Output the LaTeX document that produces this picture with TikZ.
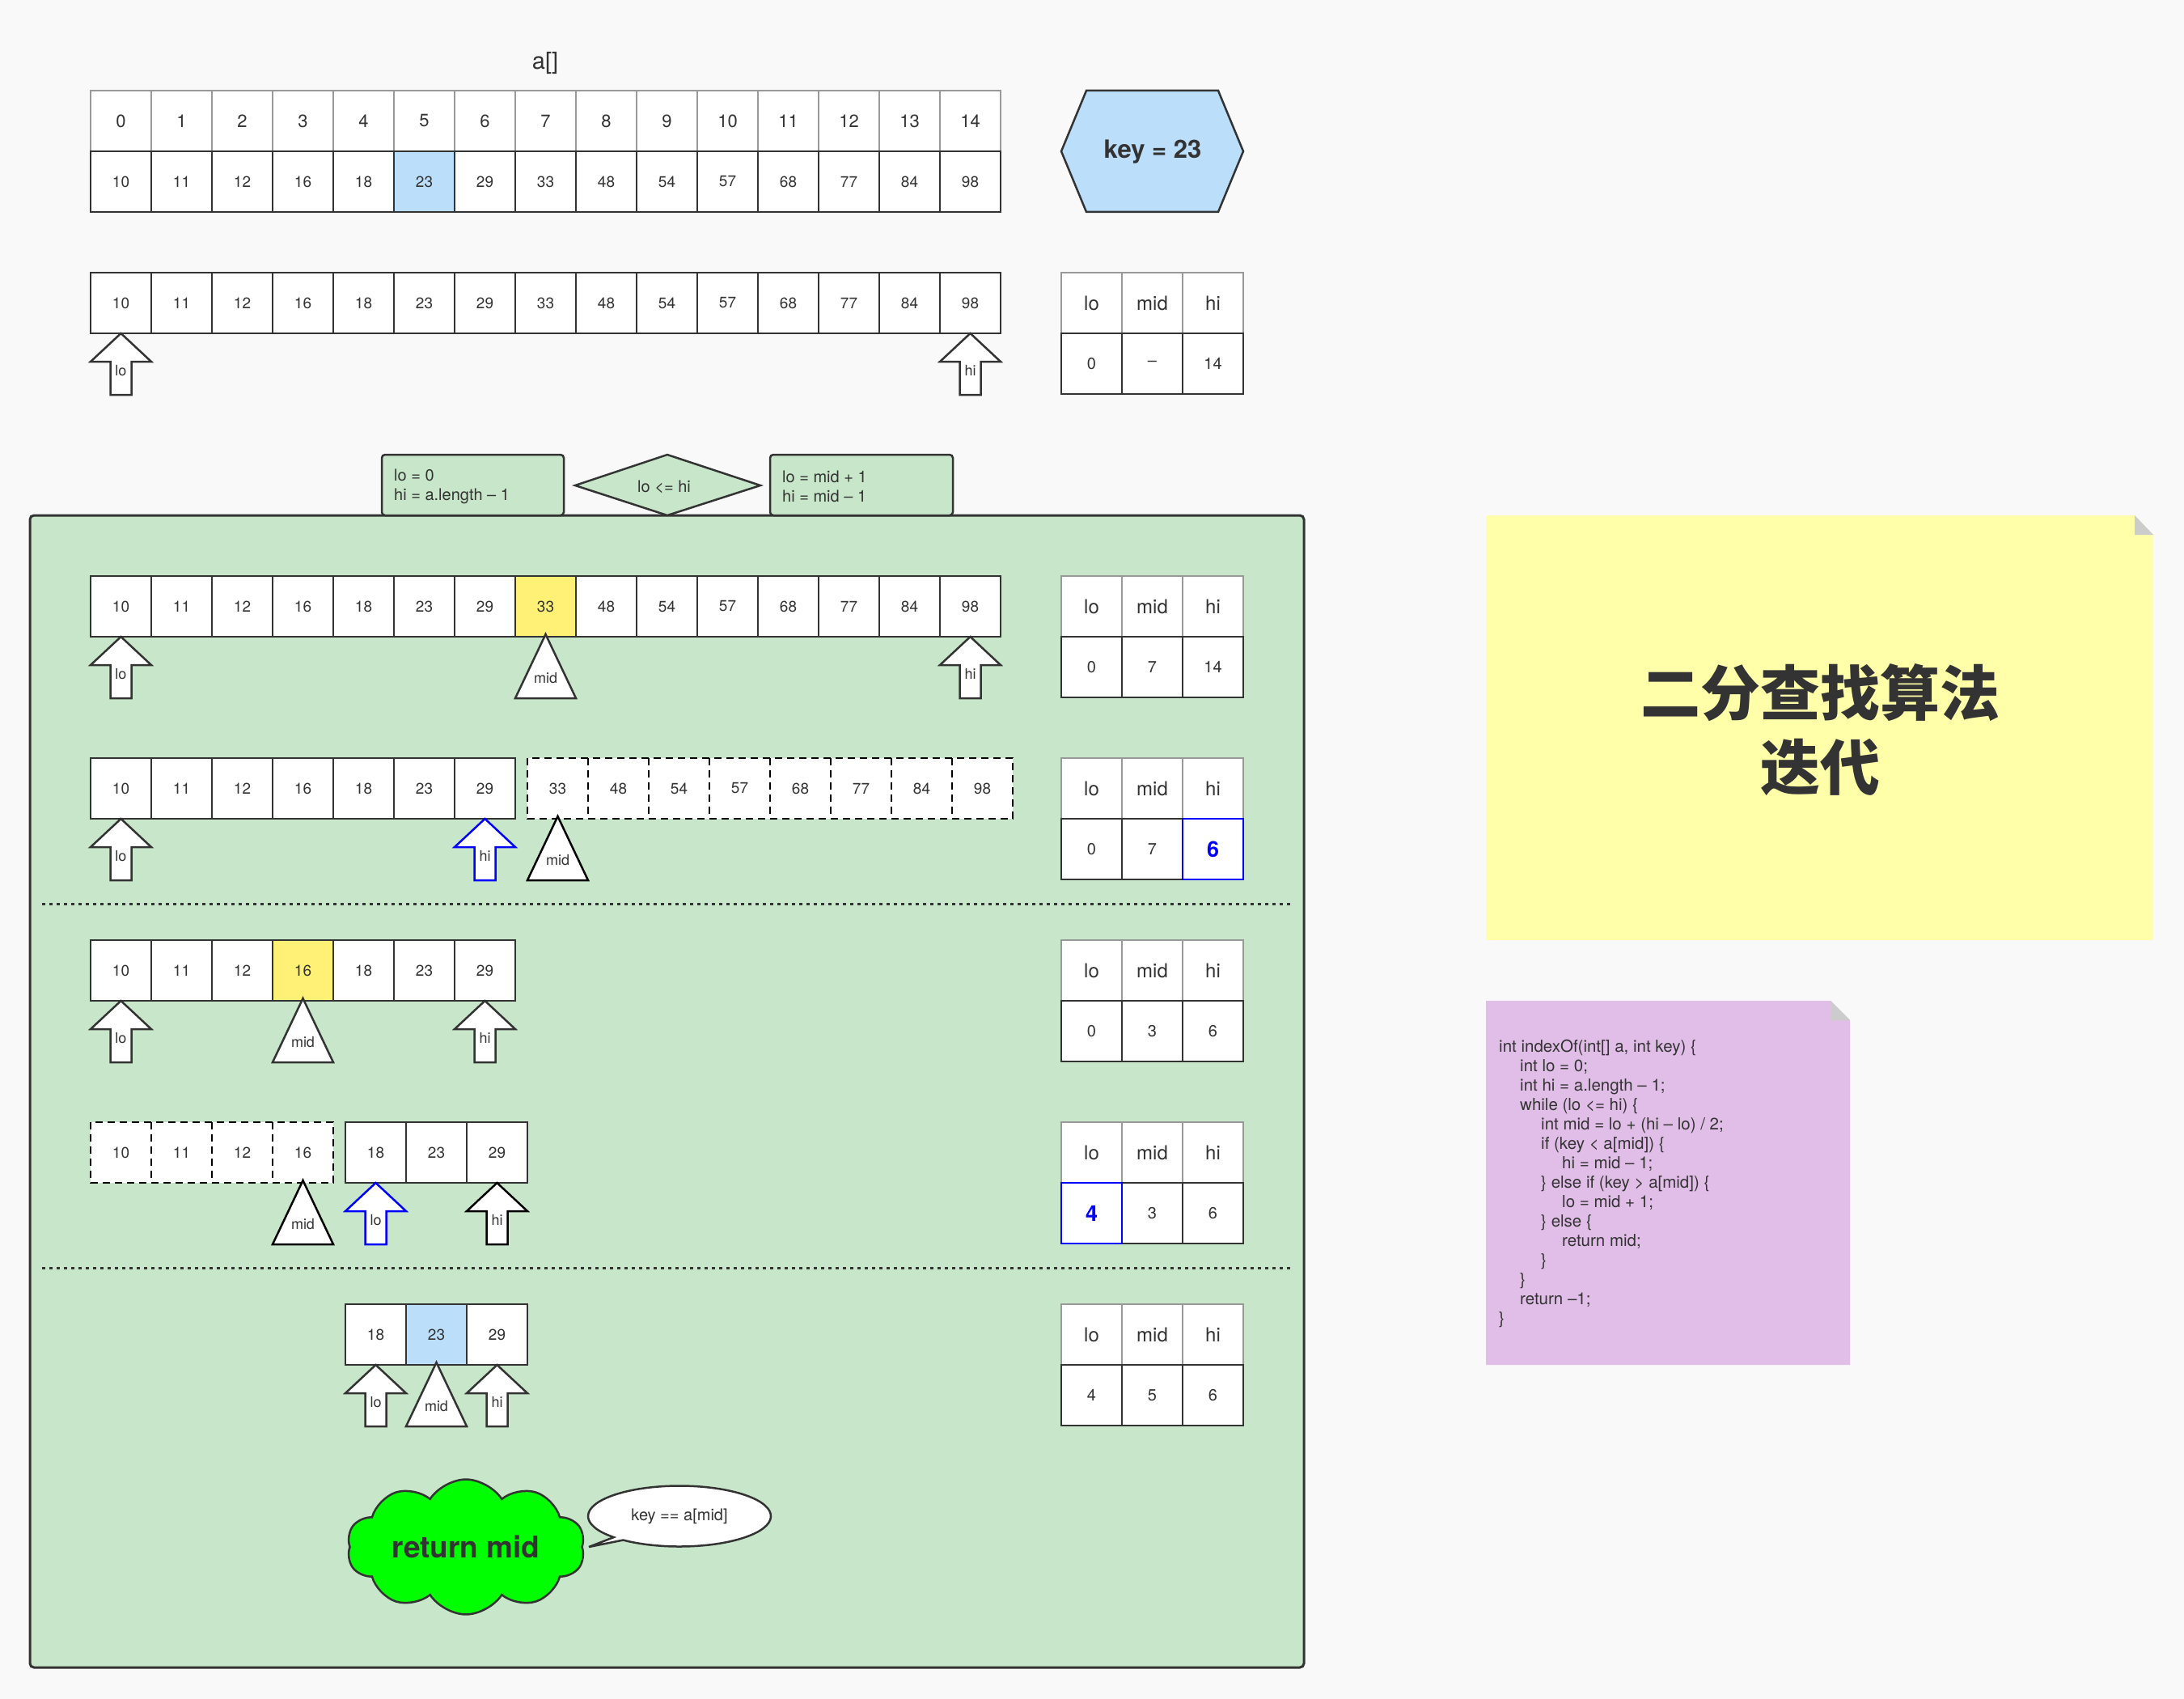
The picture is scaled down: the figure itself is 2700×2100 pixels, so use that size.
\documentclass[tikz,border=0pt]{standalone}
\usepackage{fontspec}
\setmainfont{TeX Gyre Heros}
\newfontfamily\cjk{Noto Sans CJK SC}
\usetikzlibrary{shapes.symbols}
\definecolor{dk}{HTML}{333333}
\definecolor{bgc}{HTML}{F9F9F9}
\definecolor{gridg}{HTML}{999999}
\definecolor{cgreen}{HTML}{C8E6C9}
\definecolor{lblue}{HTML}{BBDEFB}
\definecolor{cyel}{HTML}{FFF176}
\definecolor{pblue}{HTML}{0000FF}
\definecolor{noteyel}{HTML}{FFFFAA}
\definecolor{notepur}{HTML}{E1BEE7}
\definecolor{foldg}{HTML}{CCCCCC}
\definecolor{lime}{HTML}{00FF00}

\newcommand{\ArrUp}[5]{%
  \draw[shp, draw=#2] (#3,#4) -- ++(37.5,35) -- ++(-24.5,0) -- ++(0,41) -- ++(-26,0) -- ++(0,-41) -- ++(-24.5,0) -- cycle;
  \node[albl] (#1) at (#3,#4+46) {#5};}
\newcommand{\TriUp}[5]{%
  \draw[shp, draw=#2] (#3,#4-3) -- (#3+37.5,#4+76) -- (#3-37.5,#4+76) -- cycle;
  \node[albl] (#1) at (#3,#4+51) {#5};}
\newcommand{\LMH}[5]{%
  \node[hcell] (#1h0) at (1349.5,#2+37.5) {lo};
  \node[hcell] (#1h1) at (1424.5,#2+37.5) {mid};
  \node[hcell] (#1h2) at (1499.5,#2+37.5) {hi};
  \node[tcell] (#1v0) at (1349.5,#2+112.5) {#3};
  \node[tcell] (#1v1) at (1424.5,#2+112.5) {#4};
  \node[tcell] (#1v2) at (1499.5,#2+112.5) {#5};}

\begin{document}
\begin{tikzpicture}[x=1pt, y=-1pt,
  every node/.style={text=dk},
  cellbase/.style={minimum width=75pt, minimum height=75pt, inner sep=0pt, fill=white},
  vcell/.style={cellbase, draw=dk, line width=2.5pt, font=\fontsize{19}{19}\selectfont},
  icell/.style={cellbase, draw=gridg, line width=1.5pt, font=\fontsize{22}{22}\selectfont},
  hcell/.style={cellbase, draw=gridg, line width=1.5pt, font=\fontsize{24}{24}\selectfont},
  tcell/.style={cellbase, draw=dk, line width=2.5pt, font=\fontsize{20}{20}\selectfont},
  bcell/.style={cellbase, draw=pblue, line width=2.5pt, text=pblue, font=\bfseries\fontsize{27}{27}\selectfont},
  dcell/.style={cellbase, font=\fontsize{19}{19}\selectfont},
  dline/.style={draw=black, line width=2.5pt, dash pattern=on 9pt off 6pt},
  shp/.style={fill=white, line width=2.5pt, line join=miter},
  albl/.style={font=\fontsize{18}{18}\selectfont, inner sep=0pt},
  gbox/.style={draw=dk, fill=cgreen, line width=2.5pt, rounded corners=4pt},
  btxt/.style={anchor=west, align=left, inner sep=0pt, font=\fontsize{20}{24}\selectfont},
]
\useasboundingbox (0,0) rectangle (2700,2100);
\fill[bgc] (0,0) rectangle (2700,2100);

% title
\node[font=\fontsize{29}{29}\selectfont] (atitle) at (674,78) {a[]};

% row 0: indices and values
\foreach \v [count=\i from 0] in {0,...,14}
  \node[icell] (ix\i) at ({149.5+75*\i},149.5) {\v};
\foreach \v/\f [count=\i from 0] in {10/white,11/white,12/white,16/white,18/white,23/lblue,29/white,33/white,48/white,54/white,57/white,68/white,77/white,84/white,98/white}
  \node[vcell, fill=\f] (av\i) at ({149.5+75*\i},224.5) {\v};

% key hexagon
\draw[fill=lblue, draw=dk, line width=2.5pt, line join=miter]
  (1312,187) -- (1343,112) -- (1506,112) -- (1537,187) -- (1506,262) -- (1343,262) -- cycle;
\node[font=\bfseries\fontsize{31}{31}\selectfont] (key) at (1425,188) {key = 23};

% row 1
\foreach \v [count=\i from 0] in {10,11,12,16,18,23,29,33,48,54,57,68,77,84,98}
  \node[vcell] (p1v\i) at ({149.5+75*\i},374.5) {\v};
\ArrUp{p1lo}{dk}{149.5}{412}{lo}
\ArrUp{p1hi}{dk}{1199.5}{412}{hi}
\LMH{ti}{337}{0}{–}{14}

% container
\draw[fill=cgreen, draw=dk, line width=3pt, rounded corners=5pt] (37,637) rectangle (1612,2061);
\draw[dk, line width=3pt, dash pattern=on 4pt off 5pt] (52,1117) -- (1597,1117);
\draw[dk, line width=3pt, dash pattern=on 4pt off 5pt] (52,1567) -- (1597,1567);

% header boxes
\draw[gbox] (472,562) rectangle (697,637);
\node[btxt] (init) at (487,601) {lo = 0\\hi = a.length – 1};
\draw[fill=cgreen, draw=dk, line width=2.5pt, line join=miter] (711,600) -- (825,562) -- (940,600) -- (825,637) -- cycle;
\node[font=\fontsize{20}{20}\selectfont] (cond) at (821,602) {lo <= hi};
\draw[gbox] (952,562) rectangle (1178,637);
\node[btxt] (upd) at (967,601) {lo = mid + 1\\hi = mid – 1};

% row A
\foreach \v/\f [count=\i from 0] in {10/white,11/white,12/white,16/white,18/white,23/white,29/white,33/cyel,48/white,54/white,57/white,68/white,77/white,84/white,98/white}
  \node[vcell, fill=\f] (rav\i) at ({149.5+75*\i},749.5) {\v};
\ArrUp{ralo}{dk}{149.5}{787}{lo}
\TriUp{ramid}{dk}{674.5}{787}{mid}
\ArrUp{rahi}{dk}{1199.5}{787}{hi}
\LMH{ta}{712}{0}{7}{14}

% row B
\foreach \v [count=\i from 0] in {10,11,12,16,18,23,29}
  \node[vcell] (rbv\i) at ({149.5+75*\i},974.5) {\v};
\foreach \v [count=\i from 0] in {33,48,54,57,68,77,84,98}
  \node[dcell] (rbd\i) at ({689.5+75*\i},974.5) {\v};
\draw[dline] (652,937) rectangle (1252,1012);
\foreach \i in {1,...,7} \draw[dline] ({652+75*\i},937) -- ({652+75*\i},1012);
\ArrUp{rblo}{dk}{149.5}{1012}{lo}
\ArrUp{rbhi}{pblue}{599.5}{1012}{hi}
\TriUp{rbmid}{black}{689.5}{1012}{mid}
\LMH{tb}{937}{0}{7}{}
\node[bcell] (tbhi) at (1499.5,1049.5) {6};

% row C
\foreach \v/\f [count=\i from 0] in {10/white,11/white,12/white,16/cyel,18/white,23/white,29/white}
  \node[vcell, fill=\f] (rcv\i) at ({149.5+75*\i},1199.5) {\v};
\ArrUp{rclo}{dk}{149.5}{1237}{lo}
\TriUp{rcmid}{dk}{374.5}{1237}{mid}
\ArrUp{rchi}{dk}{599.5}{1237}{hi}
\LMH{tc}{1162}{0}{3}{6}

% row D
\foreach \v [count=\i from 0] in {10,11,12,16}
  \node[dcell] (rdd\i) at ({149.5+75*\i},1424.5) {\v};
\draw[dline] (112,1387) rectangle (412,1462);
\foreach \i in {1,2,3} \draw[dline] ({112+75*\i},1387) -- ({112+75*\i},1462);
\foreach \v [count=\i from 0] in {18,23,29}
  \node[vcell] (rdv\i) at ({464.5+75*\i},1424.5) {\v};
\TriUp{rdmid}{black}{374.5}{1462}{mid}
\ArrUp{rdlo}{pblue}{464.5}{1462}{lo}
\ArrUp{rdhi}{black}{614.5}{1462}{hi}
\LMH{td}{1387}{}{3}{6}
\node[bcell] (tdlo) at (1349.5,1499.5) {4};

% row E
\foreach \v/\f [count=\i from 0] in {18/white,23/lblue,29/white}
  \node[vcell, fill=\f] (rev\i) at ({464.5+75*\i},1649.5) {\v};
\ArrUp{relo}{dk}{464.5}{1687}{lo}
\TriUp{remid}{dk}{539.5}{1687}{mid}
\ArrUp{rehi}{dk}{614.5}{1687}{hi}
\LMH{te}{1612}{4}{5}{6}

% return cloud
\node[cloud, cloud puffs=10, cloud puff arc=115, aspect=2, draw=dk, fill=lime, line width=2.5pt,
  minimum width=294pt, minimum height=150pt, inner sep=0pt,
  font=\bfseries\fontsize{37}{37}\selectfont] (ret) at (576,1912) {return mid};

% callout
\draw[fill=white, draw=dk, line width=2.5pt]
  (840,1874) ++(136:113 and 37.5) arc[start angle=136, end angle=488, x radius=113, y radius=37.5] -- (728,1912) -- cycle;
\node[font=\fontsize{20}{20}\selectfont] (cmt) at (840,1874) {key == a[mid]};

% yellow note
\fill[noteyel] (1837,637) -- (2639,637) -- (2662,661) -- (2662,1162) -- (1837,1162) -- cycle;
\fill[foldg] (2639,637) -- (2639,661) -- (2662,661) -- cycle;
\node[font=\cjk\bfseries\fontsize{74}{92}\selectfont, align=center] (title) at (2250,902) {二分查找算法\\迭代};

% purple note
\fill[notepur] (1837,1237) -- (2263,1237) -- (2287,1261) -- (2287,1687) -- (1837,1687) -- cycle;
\fill[foldg] (2263,1237) -- (2263,1261) -- (2287,1261) -- cycle;
\node[anchor=north west, align=left, inner sep=0pt, font=\fontsize{20.5}{24}\selectfont] (code) at (1853,1285) {%
int indexOf(int[] a, int key) \{\\
\hspace*{26pt}int lo = 0;\\
\hspace*{26pt}int hi = a.length – 1;\\
\hspace*{26pt}while (lo <= hi) \{\\
\hspace*{52pt}int mid = lo + (hi – lo) / 2;\\
\hspace*{52pt}if (key < a[mid]) \{\\
\hspace*{78pt}hi = mid – 1;\\
\hspace*{52pt}\} else if (key > a[mid]) \{\\
\hspace*{78pt}lo = mid + 1;\\
\hspace*{52pt}\} else \{\\
\hspace*{78pt}return mid;\\
\hspace*{52pt}\}\\
\hspace*{26pt}\}\\
\hspace*{26pt}return –1;\\
\}};
\end{tikzpicture}
\end{document}
